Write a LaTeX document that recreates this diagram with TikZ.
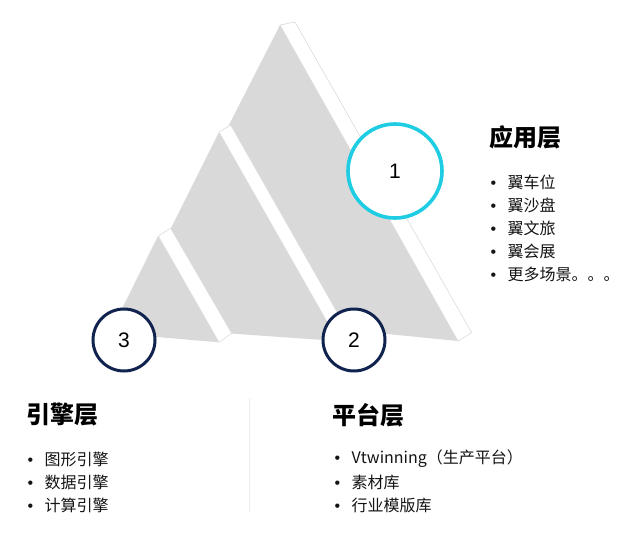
\documentclass[tikz,border=0pt]{standalone}
\usepackage{fontspec}
\setmainfont{Liberation Sans}
\newfontfamily\cjk{Noto Sans CJK SC}
\definecolor{layergray}{HTML}{D9D9D9}
\definecolor{stripline}{HTML}{DCDCDC}
\definecolor{ringcyan}{HTML}{1ECDE3}
\definecolor{ringnavy}{HTML}{10244F}
\definecolor{listtext}{HTML}{141414}
\begin{document}
\begin{tikzpicture}[x=1pt,y=-1pt,
  layer/.style={fill=layergray,draw=none},
  strip/.style={fill=white,draw=stripline,line width=0.6pt,line join=round},
  ring/.style={circle,fill=white,inner sep=0pt,font=\fontsize{21}{24}\selectfont},
  title/.style={anchor=west,inner sep=0pt,font=\cjk\bfseries\fontsize{24}{28}\selectfont},
  item/.style={anchor=west,inner sep=0pt,text=listtext,font=\cjk\fontsize{16}{19}\selectfont},
]
\useasboundingbox (0,0) rectangle (640,543);
% big (top) layer
\fill[layer] (280,25) -- (458,341) -- (135,309) -- cycle;
\filldraw[strip] (280,25) -- (295,22) -- (471.7,332.7) -- (458,341) -- cycle;
% middle layer
\fill[layer] (219,132) -- (338,341) -- (122,326) -- cycle;
\filldraw[strip] (219,132) -- (230.7,125) -- (349.5,334) -- (338,341) -- cycle;
% small layer
\fill[layer] (158,236) -- (219,342.3) -- (110,333) -- cycle;
\filldraw[strip] (158.3,236) -- (170.7,228.3) -- (231.7,333.3) -- (219,342.3) -- cycle;
% rings
\node[ring,draw=ringcyan,line width=3.6pt,minimum size=94pt] (c1) at (395,171) {1};
\node[ring,draw=ringnavy,line width=3pt,minimum size=62pt] (c2) at (354,340) {2};
\node[ring,draw=ringnavy,line width=3pt,minimum size=62pt] (c3) at (124,340) {3};
% divider
\draw[black!7,line width=0.8pt] (249,398) -- (249,512);
% application layer
\node[title] (t1) at (489,137) {应用层};
\node[item] (a1) at (490.5,182) {\makebox[17pt][l]{\rmfamily •}翼车位};
\node[item] (a2) at (490.5,205) {\makebox[17pt][l]{\rmfamily •}翼沙盘};
\node[item] (a3) at (490.5,228) {\makebox[17pt][l]{\rmfamily •}翼文旅};
\node[item] (a4) at (490.5,251) {\makebox[17pt][l]{\rmfamily •}翼会展};
\node[item] (a5) at (490.5,274) {\makebox[17pt][l]{\rmfamily •}更多场景。。。};
% engine layer
\node[title] (t3) at (26,415) {引擎层};
\node[item] (e1) at (27.5,459) {\makebox[17pt][l]{\rmfamily •}图形引擎};
\node[item] (e2) at (27.5,482) {\makebox[17pt][l]{\rmfamily •}数据引擎};
\node[item] (e3) at (27.5,505) {\makebox[17pt][l]{\rmfamily •}计算引擎};
% platform layer
\node[title] (t2) at (332,415) {平台层};
\node[item] (p1) at (334.5,459) {\makebox[17pt][l]{\rmfamily •}Vtwinning（生产平台）};
\node[item] (p2) at (334.5,482) {\makebox[17pt][l]{\rmfamily •}素材库};
\node[item] (p3) at (334.5,505) {\makebox[17pt][l]{\rmfamily •}行业模版库};
\end{tikzpicture}
\end{document}
